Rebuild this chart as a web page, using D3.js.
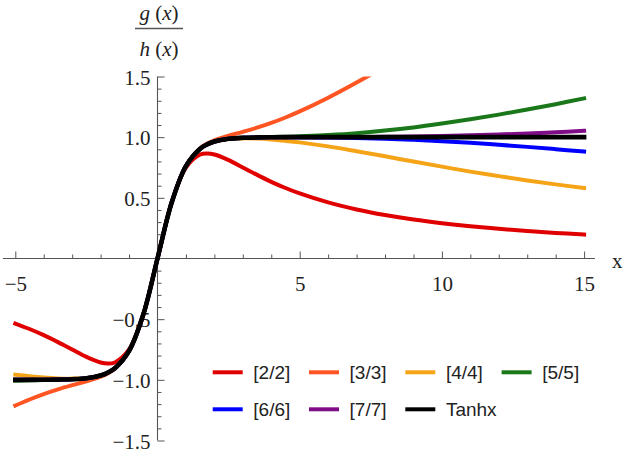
<!DOCTYPE html>
<html>
<head>
<meta charset="utf-8">
<script src="https://cdn.jsdelivr.net/npm/d3@7"></script>
<style>
  body { margin: 0; background: #fff; }
  svg { display: block; }
  .serif { font-family: "Liberation Serif", "DejaVu Serif", serif; }
  .sans { font-family: "Liberation Sans", Arial, sans-serif; }
</style>
</head>
<body>
<svg width="625" height="459"></svg>
<script>
// sample points (x shared by all curves)
const xs = [-5, -4.5, -4, -3.5, -3, -2.5, -2, -1.75, -1.5, -1, -0.5, 0, 0.5, 1, 1.5, 1.75, 2, 2.5, 3, 3.5, 4, 4.5, 5, 6, 7, 8, 9, 10, 11, 12, 13, 14, 15]

const pade22 = [-0.536, -0.581, -0.632, -0.689, -0.75, -0.811, -0.857, -0.866, -0.857, -0.75, -0.462, 0, 0.462, 0.75, 0.857, 0.866, 0.857, 0.811, 0.75, 0.689, 0.632, 0.581, 0.536, 0.462, 0.404, 0.358, 0.321, 0.291, 0.266, 0.245, 0.227, 0.211, 0.197]
const pade33 = [-1.212, -1.162, -1.117, -1.078, -1.044, -1.012, -0.974, -0.947, -0.908, -0.762, -0.462, 0, 0.462, 0.762, 0.908, 0.947, 0.974, 1.012, 1.044, 1.078, 1.117, 1.162, 1.212, 1.325, 1.450, 1.584, 1.725, 1.870, 2.019, 2.171, 2.325, 2.480, 2.637]
const pade44 = [-0.957, -0.970, -0.981, -0.988, -0.990, -0.985, -0.964, -0.941, -0.905, -0.762, -0.462, 0, 0.462, 0.762, 0.905, 0.941, 0.964, 0.985, 0.990, 0.988, 0.981, 0.970, 0.957, 0.924, 0.884, 0.842, 0.799, 0.757, 0.716, 0.679, 0.643, 0.611, 0.581]
const pade55 = [-1.007, -1.004, -1.002, -0.999, -0.996, -0.987, -0.964, -0.941, -0.905, -0.762, -0.462, 0, 0.462, 0.762, 0.905, 0.941, 0.964, 0.987, 0.996, 0.999, 1.002, 1.004, 1.007, 1.018, 1.033, 1.054, 1.080, 1.112, 1.147, 1.186, 1.228, 1.272, 1.320]
const pade66 = [-0.999, -0.999, -0.999, -0.998, -0.995, -0.987, -0.964, -0.941, -0.905, -0.762, -0.462, 0, 0.462, 0.762, 0.905, 0.941, 0.964, 0.987, 0.995, 0.998, 0.999, 0.999, 0.999, 0.997, 0.993, 0.987, 0.978, 0.967, 0.953, 0.937, 0.920, 0.901, 0.881]
const pade77 = [-1.000, -1.000, -0.999, -0.998, -0.995, -0.987, -0.964, -0.941, -0.905, -0.762, -0.462, 0, 0.462, 0.762, 0.905, 0.941, 0.964, 0.987, 0.995, 0.998, 0.999, 1.000, 1.000, 1.000, 1.001, 1.003, 1.005, 1.009, 1.015, 1.022, 1.030, 1.041, 1.052]
const tanhx = [-1.000, -1.000, -0.999, -0.998, -0.995, -0.987, -0.964, -0.941, -0.905, -0.762, -0.462, 0, 0.462, 0.762, 0.905, 0.941, 0.964, 0.987, 0.995, 0.998, 0.999, 1.000, 1.000, 1.000, 1.000, 1.000, 1.000, 1.000, 1.000, 1.000, 1.000, 1.000, 1.000]

const seriesNames = ["[2/2]", "[3/3]", "[4/4]", "[5/5]", "[6/6]", "[7/7]", "Tanhx"]
const seriesValues = [pade22, pade33, pade44, pade55, pade66, pade77, tanhx]
const seriesColors = ["#e00000", "#ff5522", "#f5a418", "#1a771a", "#0000ff", "#800d88", "#000000"]

const xMajor = [-5, 5, 10, 15]
const xTickLabels = ["\u22125", "5", "10", "15"]
const xMinor = [-4, -3, -2, -1, 1, 2, 3, 4, 6, 7, 8, 9, 11, 12, 13, 14]
const yMajor = [-1.5, -1.0, -0.5, 0.5, 1.0, 1.5]
const yTickLabels = ["\u22121.5", "\u22121.0", "\u22120.5", "0.5", "1.0", "1.5"]
const yMinor = d3.range(-14, 15).filter(k => k % 5 !== 0).map(k => k / 10)

const svg = d3.select("svg")
const axisColor = "#555"
const textColor = "#222"

const x = d3.scaleLinear().domain([-5, 15]).range([15.3, 584.1])
const y = d3.scaleLinear().domain([-1.5, 1.5]).range([440.5, 76.5])

// x axis (ticks point up, labels below)
const xAxisG = svg.append("g").attr("transform", `translate(0, ${y(0)})`)
xAxisG.append("line")
  .attr("x1", 3).attr("x2", 595)
  .attr("stroke", axisColor).attr("stroke-width", 1.1)
xAxisG.append("g")
  .call(d3.axisTop(x).tickValues(xMinor).tickSize(4).tickFormat(""))
xAxisG.append("g")
  .call(d3.axisTop(x).tickValues(xMajor).tickSize(7).tickFormat((d, i) => xTickLabels[i]))
xAxisG.selectAll("g").attr("font-family", null).attr("font-size", null)
xAxisG.selectAll(".domain").remove()
xAxisG.selectAll(".tick line").attr("stroke", axisColor)
xAxisG.selectAll(".tick text")
  .attr("class", "serif")
  .attr("y", 32.5).attr("dy", 0)
  .style("font-size", "21px").attr("fill", textColor)

svg.append("text")
  .attr("class", "serif")
  .attr("x", 612).attr("y", 268)
  .style("font-size", "21px").attr("fill", textColor)
  .text("x")

// y axis (ticks point right, labels left)
const yAxisG = svg.append("g").attr("transform", `translate(${x(0)}, 0)`)
yAxisG.append("line")
  .attr("y1", y(1.5)).attr("y2", y(-1.5))
  .attr("stroke", axisColor).attr("stroke-width", 1.1)
yAxisG.append("g")
  .call(d3.axisRight(y).tickValues(yMinor).tickSize(4).tickFormat(""))
yAxisG.append("g")
  .call(d3.axisRight(y).tickValues(yMajor).tickSize(7).tickFormat((d, i) => yTickLabels[i]))
yAxisG.selectAll("g").attr("font-family", null).attr("font-size", null)
yAxisG.selectAll(".domain").remove()
yAxisG.selectAll(".tick line").attr("stroke", axisColor)
yAxisG.selectAll(".tick text")
  .attr("class", "serif")
  .attr("x", -7).attr("dy", "0.36em")
  .attr("text-anchor", "end")
  .style("font-size", "21px").attr("fill", textColor)

// y label: g(x) / h(x)
const frac = svg.append("g")
  .attr("class", "serif")
  .style("font-size", "21px").attr("fill", textColor)
  .attr("text-anchor", "middle")
const numText = frac.append("text").attr("x", 159).attr("y", 20)
numText.append("tspan").attr("font-style", "italic").text("g")
numText.append("tspan").text(" (")
numText.append("tspan").attr("font-style", "italic").text("x")
numText.append("tspan").text(")")
frac.append("line")
  .attr("x1", 135).attr("x2", 183).attr("y1", 28.5).attr("y2", 28.5)
  .attr("stroke", "#555").attr("stroke-width", 1.3)
const denText = frac.append("text").attr("x", 159).attr("y", 56)
denText.append("tspan").attr("font-style", "italic").text("h")
denText.append("tspan").text(" (")
denText.append("tspan").attr("font-style", "italic").text("x")
denText.append("tspan").text(")")

// curves
svg.append("clipPath").attr("id", "plotClip")
  .append("rect")
  .attr("x", 0).attr("y", y(1.5))
  .attr("width", 625).attr("height", y(-1.5) - y(1.5))

const line = d3.line()
  .x(d => x(d[0]))
  .y(d => y(d[1]))
  .curve(d3.curveCatmullRom.alpha(0.5))

const curvesG = svg.append("g").attr("clip-path", "url(#plotClip)")
seriesValues.forEach((vals, i) => {
  curvesG.append("path")
    .datum(xs.map((xv, j) => [xv, vals[j]]))
    .attr("d", line)
    .attr("fill", "none")
    .attr("stroke", seriesColors[i])
    .attr("stroke-width", i === 6 ? 4.6 : 4)
    .attr("stroke-linecap", "square")
    .attr("stroke-linejoin", "round")
})

// legend
const legend = svg.append("g")
  .attr("class", "sans")
  .style("font-size", "19px").attr("fill", "#222")
seriesNames.forEach((name, i) => {
  const row = i < 4 ? 0 : 1
  const col = i < 4 ? i : i - 4
  const lg = legend.append("g")
    .attr("transform", `translate(${212.7 + col * 96.3}, ${372.3 + row * 37})`)
  lg.append("line")
    .attr("x1", 0).attr("x2", 30)
    .attr("stroke", seriesColors[i]).attr("stroke-width", 4)
  lg.append("text")
    .attr("x", 40.6).attr("dy", "0.35em")
    .text(name)
})
</script>
</body>
</html>
